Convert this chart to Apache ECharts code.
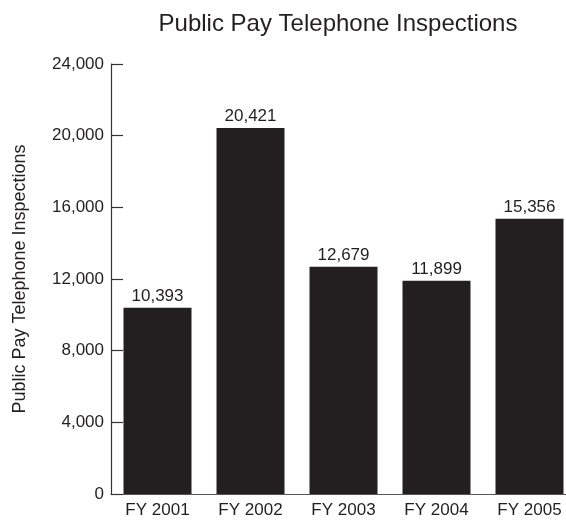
<!DOCTYPE html>
<html>
<head>
<meta charset="utf-8">
<script src="https://cdn.jsdelivr.net/npm/echarts@6/dist/echarts.min.js"></script>
<style>html,body{margin:0;padding:0;background:#fff}#c{width:566px;height:525px}</style>
</head>
<body>
<div id="c"></div>
<script>
const categories = ["FY 2001", "FY 2002", "FY 2003", "FY 2004", "FY 2005"];
const inspections = [10393, 20421, 12679, 11899, 15356];
const yTicks = [0, 4000, 8000, 12000, 16000, 20000, 24000];

const FONT = '"Liberation Sans Narrow", "Arial Narrow", "Liberation Sans", sans-serif';
const chart = echarts.init(document.getElementById('c'));
chart.setOption({
  animation: false,
  title: {
    text: 'Public Pay Telephone Inspections',
    left: 333, top: 7, textAlign: 'center',
    textStyle: { fontFamily: FONT, fontSize: 24, fontWeight: 'normal', color: '#231f20' }
  },
  grid: { left: 111, top: 64, width: 465, height: 430, containLabel: false, outerBoundsMode: 'none' },
  xAxis: {
    type: 'category',
    data: categories,
    axisLine: { lineStyle: { color: '#555', width: 1 } },
    axisTick: { show: false },
    axisLabel: { fontFamily: FONT, fontSize: 17, color: '#231f20', margin: 8 }
  },
  yAxis: {
    type: 'value',
    min: yTicks[0], max: yTicks[yTicks.length - 1], interval: 4000,
    name: 'Public Pay Telephone Inspections',
    nameLocation: 'middle', nameGap: 82, nameRotate: 90,
    nameTextStyle: { fontFamily: FONT, fontSize: 18, color: '#231f20' },
    splitLine: { show: false },
    axisLine: { show: true, lineStyle: { color: '#333', width: 1.2 } },
    axisTick: { show: true, inside: true, length: 12, lineStyle: { color: '#333', width: 1.2 } },
    axisLabel: {
      fontFamily: FONT, fontSize: 17, color: '#231f20', margin: 7,
      formatter: v => v.toLocaleString('en-US')
    }
  },
  series: [{
    type: 'bar',
    data: inspections,
    barWidth: 68,
    itemStyle: { color: '#231f20' },
    label: {
      show: true, position: 'top', distance: 3,
      fontFamily: FONT, fontSize: 17, color: '#231f20',
      formatter: p => p.value.toLocaleString('en-US')
    }
  }]
});
</script>
</body>
</html>
